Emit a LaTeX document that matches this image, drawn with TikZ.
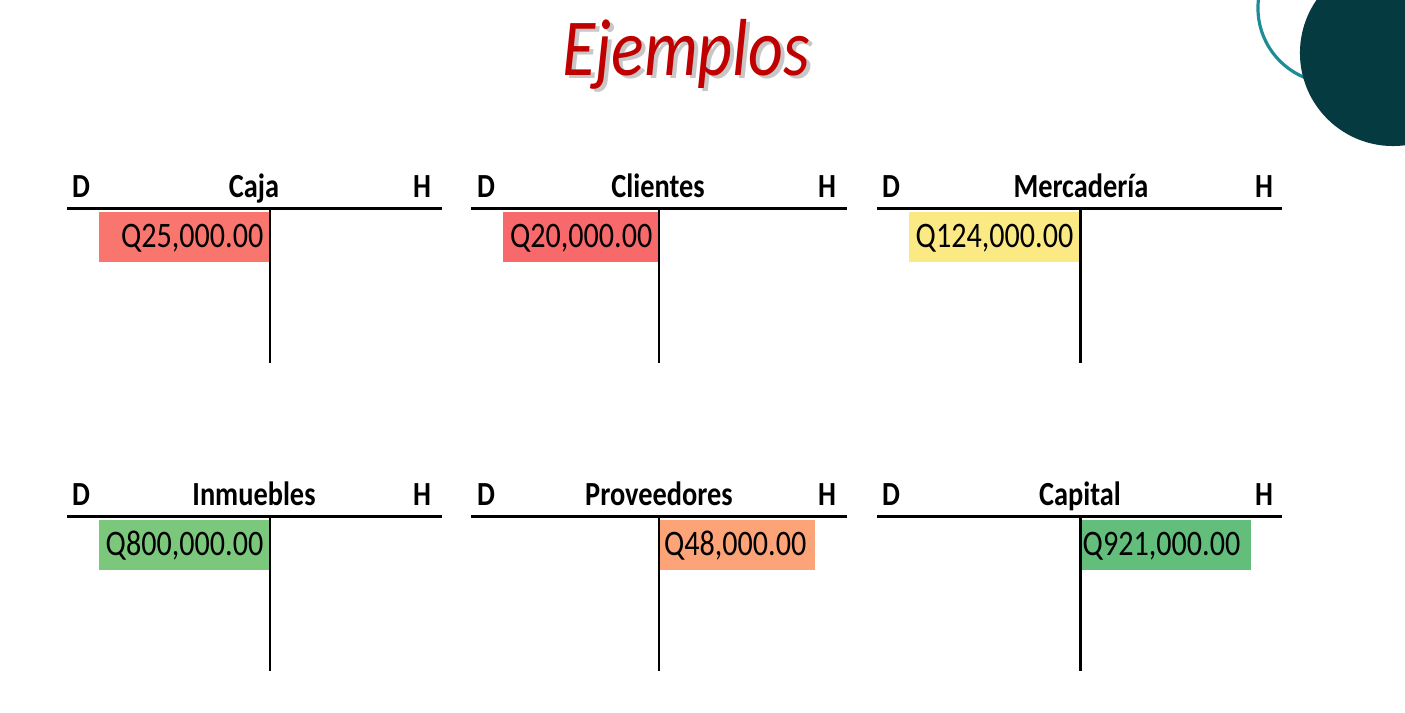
\documentclass[tikz,border=0pt]{standalone}
\usepackage{fontspec}
\setmainfont{Carlito}[FakeStretch=0.84]
\usetikzlibrary{positioning}
\usepackage{xcolor}
\definecolor{titulo}{HTML}{C00000}
\definecolor{oscuro}{HTML}{053A40}
\definecolor{turquesa}{HTML}{1E8C96}
\definecolor{rojoA}{HTML}{F8766D}
\definecolor{rojoB}{HTML}{F8696B}
\definecolor{amarillo}{HTML}{FBE983}
\definecolor{verdeA}{HTML}{7BC87C}
\definecolor{naranja}{HTML}{FCA377}
\definecolor{verdeB}{HTML}{63BE7B}

\begin{document}
\begin{tikzpicture}[x=0.01cm, y=-0.01cm,
  hdr/.style = {anchor=base, inner sep=0pt, font=\bfseries\fontsize{9.6}{11}\selectfont},
  cell/.style = {anchor=north east, inner sep=0pt, minimum height=0.5cm, minimum width=1.7cm},
  val/.style = {anchor=base east, inner sep=0pt, font=\fontsize{10.2}{12}\selectfont},
  tline/.style = {line width=0.85pt}]
      \useasboundingbox (0,0) rectangle (1405,713);

      % adorno arriba a la derecha
      \draw[turquesa, line width=0.9pt] (1333,8) circle (0.75cm);
      \fill[oscuro] (1393,53) circle (0.93cm);

      % titulo con sombra
      \node[anchor=base, inner sep=0pt, text=black!40, opacity=0.55, font=\itshape\fontsize{23}{27}\selectfont] (sombra) at (690,79) {Ejemplos};
      \node[anchor=base, inner sep=0pt, text=titulo, font=\itshape\fontsize{23}{27}\selectfont] (titulo) at (686,76) {Ejemplos};

      % celdas
      \node[cell, fill=rojoA]    (c1) at (270,211)  {};
      \node[cell, fill=rojoB, minimum width=1.55cm] (c2) at (659,211)  {};
      \node[cell, fill=amarillo] (c3) at (1080,211) {};
      \node[cell, fill=verdeA]   (c4) at (270,519)  {};
      \node[cell, fill=naranja, anchor=north west, minimum width=1.55cm] (c5) at (659,519) {};
      \node[cell, fill=verdeB, anchor=north west]  (c6) at (1080,519) {};

      % importes
      \node[val] (v1) at (264,248)  {Q25,000.00};
      \node[val] (v2) at (653,248)  {Q20,000.00};
      \node[val] (v3) at (1074,248) {Q124,000.00};
      \node[val] (v4) at (264,556)  {Q800,000.00};
      \node[val] (v5) at (807,556)  {Q48,000.00};
      \node[val] (v6) at (1241,556) {Q921,000.00};

      % cuentas T
      \draw[tline] (67,209) -- (442,209)  (270,209) -- (270,363);
      \draw[tline] (471,209) -- (847,209)  (659,209) -- (659,363);
      \draw[tline] (877,209) -- (1282,209)  (1080,209) -- (1080,363);
      \draw[tline] (67,517) -- (442,517)  (270,517) -- (270,671);
      \draw[tline] (471,517) -- (847,517)  (659,517) -- (659,671);
      \draw[tline] (877,517) -- (1282,517)  (1080,517) -- (1080,671);

      % encabezados
      \node[hdr] (d1) at (81,198)   {D};
      \node[hdr] (n1) at (254,198)  {Caja};
      \node[hdr] (h1) at (422,198)  {H};
      \node[hdr] (d2) at (486,198)  {D};
      \node[hdr] (n2) at (658,198)  {Clientes};
      \node[hdr] (h2) at (827,198)  {H};
      \node[hdr] (d3) at (891,198)  {D};
      \node[hdr] (n3) at (1081,198) {Mercadería};
      \node[hdr] (h3) at (1264,198) {H};
      \node[hdr] (d4) at (81,506)   {D};
      \node[hdr] (n4) at (254,506)  {Inmuebles};
      \node[hdr] (h4) at (422,506)  {H};
      \node[hdr] (d5) at (486,506)  {D};
      \node[hdr] (n5) at (659,506)  {Proveedores};
      \node[hdr] (h5) at (827,506)  {H};
      \node[hdr] (d6) at (891,506)  {D};
      \node[hdr] (n6) at (1080,506) {Capital};
      \node[hdr] (h6) at (1264,506) {H};
    \end{tikzpicture}
\end{document}
